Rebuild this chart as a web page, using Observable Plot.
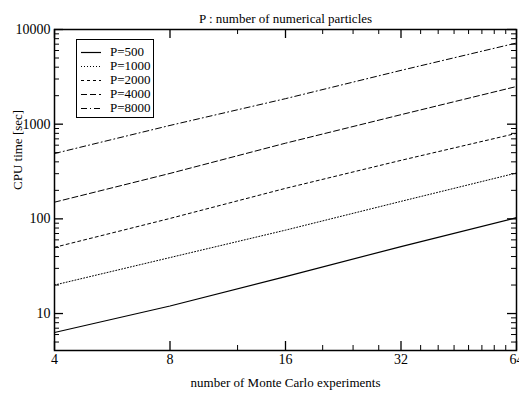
<!DOCTYPE html>
<html><head><meta charset="utf-8">
<script src="https://cdn.jsdelivr.net/npm/d3@7"></script>
<script src="https://cdn.jsdelivr.net/npm/@observablehq/plot@0.6"></script>
<style>
body{margin:0;background:#fff;}
#wrap{position:relative;width:519px;height:398px;font-family:"Liberation Serif",serif;}
#legend{position:absolute;left:76px;top:39px;width:78px;height:79px;border:1px solid #000;background:#fff;box-sizing:border-box;}
#legend .row{position:absolute;left:0;height:14px;font-size:13px;line-height:14px;}
#legend svg{position:absolute;left:4px;top:0;}
#legend span{position:absolute;left:33px;white-space:nowrap;}
</style></head>
<body><div id="wrap"><div id="legend"></div></div>
<script>
const experiments = [4, 8, 16, 32, 64];
const seriesNames = ["P=500", "P=1000", "P=2000", "P=4000", "P=8000"];
const p500  = [6.3, 12, 24.5, 51, 103];
const p1000 = [20, 39, 76, 153, 305];
const p2000 = [50, 101, 210, 415, 800];
const p4000 = [150, 302, 630, 1260, 2500];
const p8000 = [490, 970, 1860, 3700, 7200];
const seriesValues = [p500, p1000, p2000, p4000, p8000];
const xMajor = [4, 8, 16, 32, 64];
const xMinor = [12, 20, 24, 28, 36, 40, 44, 48, 52, 56, 60];
const yMajor = [10, 100, 1000, 10000];
const yMinor = [5, 6, 7, 8, 9, 20, 30, 40, 50, 60, 70, 80, 90, 200, 300, 400, 500, 600, 700, 800, 900, 2000, 3000, 4000, 5000, 6000, 7000, 8000, 9000];
const title = "P : number of numerical particles";
const xLabel = "number of Monte Carlo experiments";
const yLabel = "CPU time [sec]";

const dashes = ["none", "1,2", "3,3", "6,3", "6,3,1,3"];
const widths = [1.2, 1, 1, 1, 1];

const rows = seriesNames.flatMap((s, i) => experiments.map((e, j) => ({series: s, n: e, t: seriesValues[i][j]})));

const W = 519, H = 398, mt = 29, mb = 48, ml = 54, mr = 3;
const pw = W - ml - mr, ph = H - mt - mb;
const big = 9, small = 5;

const lineMarks = seriesNames.map((s, i) =>
  Plot.line(rows.filter(d => d.series === s), {x: "n", y: "t", stroke: "#000", strokeWidth: widths[i], strokeDasharray: dashes[i] === "none" ? null : dashes[i]})
);

const chart = Plot.plot({
  width: W, height: H,
  marginTop: mt, marginBottom: mb, marginLeft: ml, marginRight: mr,
  style: {fontFamily: "'Liberation Serif', serif", fontSize: "14px", background: "#fff", color: "#000"},
  x: {type: "log", base: 2, domain: [4, 64], axis: null},
  y: {type: "log", domain: [4.07, 10000], axis: null},
  marks: [
    ...lineMarks,
    Plot.ruleX(xMajor, {x: d => d, insetTop: ph - big, stroke: "#000", strokeWidth: 1.3}),
    Plot.ruleX(xMajor, {x: d => d, insetBottom: ph - big, stroke: "#000", strokeWidth: 1.3}),
    Plot.ruleX(xMinor, {x: d => d, insetTop: ph - small, stroke: "#000"}),
    Plot.ruleX(xMinor, {x: d => d, insetBottom: ph - small, stroke: "#000"}),
    Plot.ruleY(yMajor, {y: d => d, insetRight: pw - big, stroke: "#000", strokeWidth: 1.3}),
    Plot.ruleY(yMajor, {y: d => d, insetLeft: pw - big, stroke: "#000", strokeWidth: 1.3}),
    Plot.ruleY(yMinor, {y: d => d, insetRight: pw - small, stroke: "#000"}),
    Plot.ruleY(yMinor, {y: d => d, insetLeft: pw - small, stroke: "#000"}),
    Plot.frame({stroke: "#000", strokeWidth: 1.5}),
    Plot.axisX({ticks: xMajor, tickSize: 0, tickPadding: 4, tickFormat: d => String(d), label: null}),
    Plot.axisY({ticks: yMajor, tickSize: 0, tickPadding: 4, tickFormat: d => String(d), label: null}),
    Plot.text([title], {frameAnchor: "top", dy: -16, text: d => d, fontSize: 13}),
    Plot.text([xLabel], {frameAnchor: "bottom", dy: 36, text: d => d, fontSize: 13}),
    Plot.text([yLabel], {frameAnchor: "left", dx: -37, rotate: -90, text: d => d, fontSize: 13})
  ]
});
document.getElementById("wrap").prepend(chart);

const legend = d3.select("#legend");
seriesNames.forEach((s, i) => {
  const row = legend.append("div").attr("class", "row").style("top", (5 + i * 13.9) + "px").style("width", "76px");
  const svg = row.append("svg").attr("width", 22).attr("height", 14);
  svg.append("line").attr("x1", 0).attr("x2", 20).attr("y1", 7.5).attr("y2", 7.5)
    .attr("stroke", "#000").attr("stroke-width", widths[i])
    .attr("stroke-dasharray", dashes[i] === "none" ? null : dashes[i]);
  row.append("span").text(s);
});
</script>
</body></html>
